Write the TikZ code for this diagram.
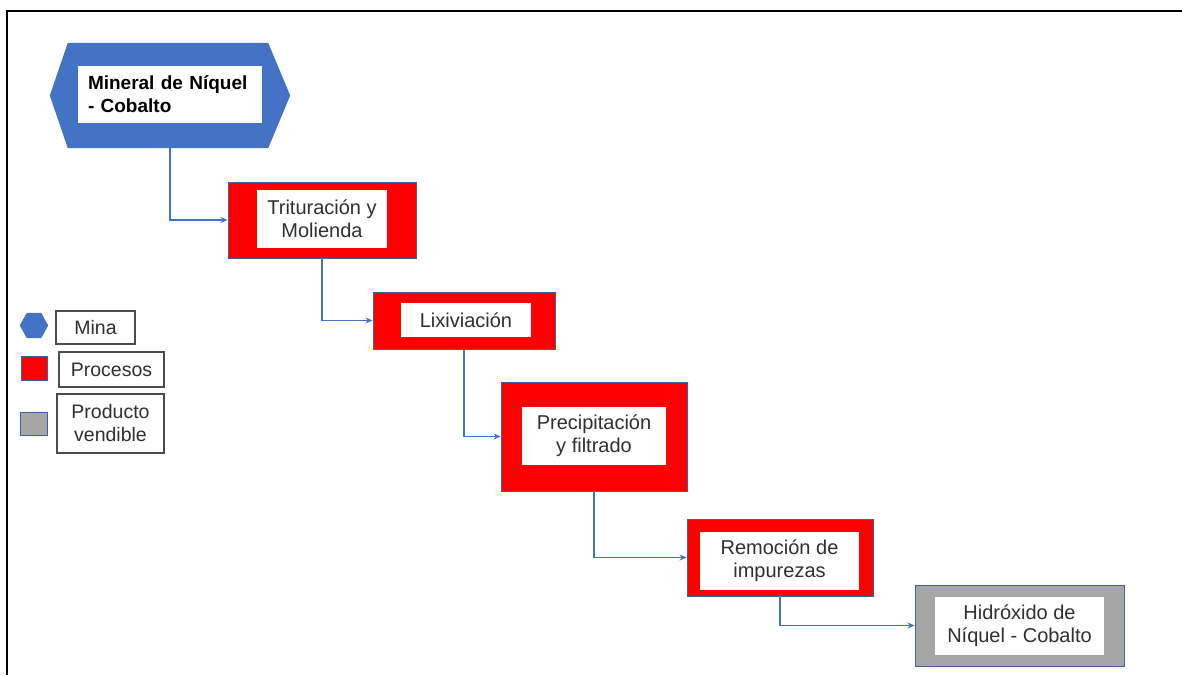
\documentclass[tikz,border=0pt]{standalone}
\usepackage{fontspec}
\setmainfont{Liberation Sans}
\usetikzlibrary{arrows.meta,calc}
\definecolor{hexblue}{HTML}{4472C4}
\definecolor{procred}{HTML}{FF0000}
\definecolor{prodgray}{HTML}{A6A6A6}
\definecolor{edgeblue}{HTML}{41619C}
\definecolor{txt}{HTML}{303030}
\tikzset{
  outerbox/.style={draw=edgeblue, line width=0.9pt, inner sep=0pt},
  procbox/.style={outerbox, fill=procred},
  prodbox/.style={outerbox, fill=prodgray},
  whitebox/.style={fill=white, inner sep=0pt, align=center, text=txt,
    font=\fontsize{20}{23}\selectfont},
  legbox/.style={draw=black!70, line width=1.2pt, fill=white, inner sep=0pt,
    align=center, text=txt, font=\fontsize{19.5}{23}\selectfont},
  conn/.style={draw=hexblue, line width=1.1pt, -{Stealth[length=7pt,width=6pt]}},
  frameline/.style={draw=black, line width=2pt}
}
\begin{document}
\begin{tikzpicture}[x=1pt,y=-1pt]
\useasboundingbox (0,0) rectangle (1182,675);
% frame
\coordinate (f1) at (7,675);
\coordinate (f2) at (7,11);
\coordinate (f3) at (1182,11);
\draw[frameline] (f1) -- (f2) -- (f3);

% Mine hexagon
\node[minimum width=240pt, minimum height=105pt, inner sep=0pt] (hex) at (170,95.5) {};
\fill[hexblue] (hex.west) -- ($(hex.north west)+(18,0)$) -- ($(hex.north east)+(-22,0)$)
  -- (hex.east) -- ($(hex.south east)+(-22,0)$) -- ($(hex.south west)+(18,0)$) -- cycle;
\node[fill=white, inner xsep=10pt, inner ysep=0pt, text width=164pt, minimum height=57pt,
  align=left, text=black, font=\bfseries\fontsize{19}{23}\selectfont] (hexin) at (170,94.5)
  {Mineral de Níquel\\- Cobalto};

% Process boxes
\node[procbox, minimum width=188pt, minimum height=76pt] (trit) at (322,220) {};
\node[whitebox, minimum width=130pt, minimum height=58pt] (tritin) at (322,219) {Trituración y\\Molienda};

\node[procbox, minimum width=182pt, minimum height=57pt] (lix) at (464,320.5) {};
\node[whitebox, minimum width=130pt, minimum height=34pt] (lixin) at (466,320) {Lixiviación};

\node[procbox, minimum width=186pt, minimum height=109pt] (prec) at (594,436.5) {};
\node[whitebox, minimum width=144pt, minimum height=58pt] (precin) at (594,436) {Precipitación\\y filtrado};

\node[procbox, minimum width=186pt, minimum height=77pt] (rem) at (780,557.5) {};
\node[whitebox, minimum width=159pt, minimum height=58pt] (remin) at (779.5,561) {Remoción de\\impurezas};

\node[prodbox, minimum width=209pt, minimum height=81pt] (hid) at (1019.5,625.5) {};
\node[whitebox, minimum width=169pt, minimum height=58pt] (hidin) at (1019.5,626) {Hidróxido de\\Níquel - Cobalto};

% Connectors
\draw[conn] (hex.south) |- (trit.west);
\draw[conn] (trit.south) |- (lix.west);
\draw[conn] (lix.south) |- (prec.west);
\draw[conn] (prec.south) |- (rem.west);
\draw[conn] (rem.south) |- (hid.west);

% Legend
\node[minimum width=28pt, minimum height=25pt, inner sep=0pt] (lhex) at (34,325.5) {};
\fill[hexblue] (lhex.west) -- ($(lhex.north west)+(7,0)$) -- ($(lhex.north east)+(-7,0)$)
  -- (lhex.east) -- ($(lhex.south east)+(-7,0)$) -- ($(lhex.south west)+(7,0)$) -- cycle;
\node[legbox, minimum width=79pt, minimum height=33pt] (lmina) at (95.5,327.5) {Mina};

\node[procbox, minimum width=26pt, minimum height=24pt] (lred) at (34,368) {};
\node[legbox, minimum width=105pt, minimum height=35pt] (lproc) at (111.5,369.5) {Procesos};

\node[prodbox, minimum width=27pt, minimum height=23pt] (lgray) at (33.5,423.5) {};
\node[legbox, minimum width=107pt, minimum height=59pt] (lprod) at (110.5,423.5) {Producto\\vendible};
\end{tikzpicture}
\end{document}
